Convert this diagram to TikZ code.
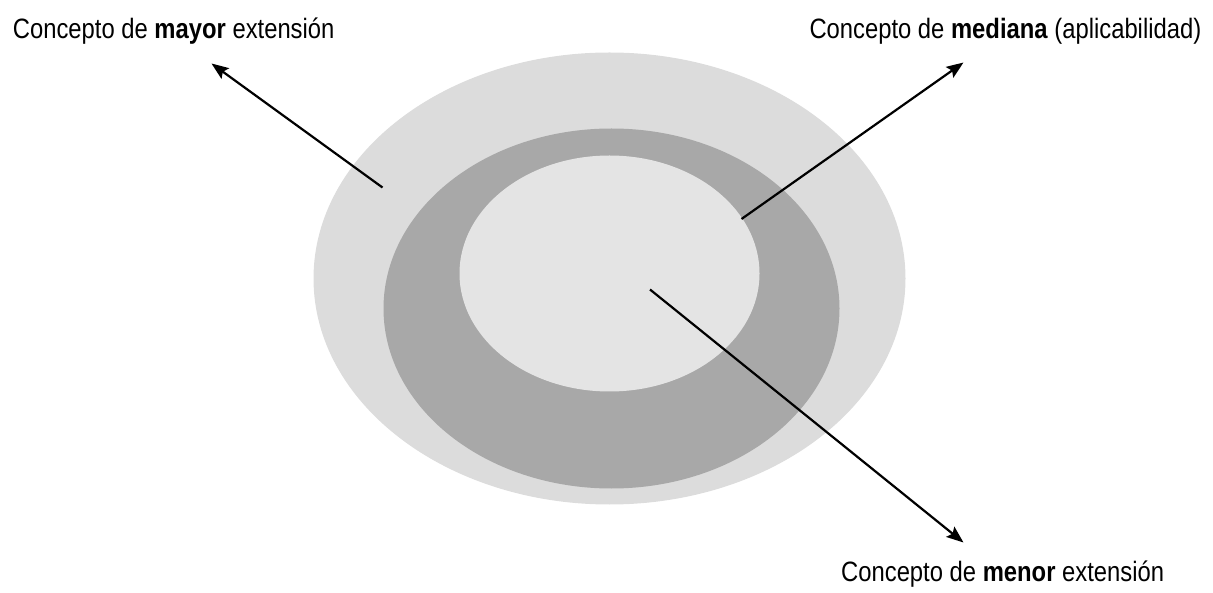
\documentclass[tikz,border=0pt]{standalone}
\usepackage{fontspec}
\setmainfont{Liberation Sans}[FakeStretch=0.85]
\usetikzlibrary{arrows.meta}
\definecolor{ringouter}{HTML}{DCDCDC}
\definecolor{ringmid}{HTML}{A8A8A8}
\definecolor{ringinner}{HTML}{E4E4E4}
\tikzset{
  label text/.style={anchor=base west, inner sep=0pt, font=\fontsize{28}{32}\selectfont},
  pointer/.style={line width=2.2pt, -{Stealth[length=17pt,width=13pt,inset=3pt]}}
}
\begin{document}
\begin{tikzpicture}[x=1pt,y=-1pt]
\useasboundingbox (0,0) rectangle (1213,593);
% concentric regions
\fill[ringouter] (609.5,278.5) ellipse [x radius=296pt, y radius=226pt];
\fill[ringmid] (611.5,308.5) ellipse [x radius=228pt, y radius=180pt];
\fill[ringinner] (609.5,273.5) ellipse [x radius=150pt, y radius=118pt];
% labels
\node[label text] (mayor) at (12.7,38.5) {Concepto de \textbf{mayor} extensión};
\node[label text] (mediana) at (809.3,38.5) {Concepto de \textbf{mediana} (aplicabilidad)};
\node[label text] (menor) at (841,581.5) {Concepto de \textbf{menor} extensión};
% pointer start and end points
\coordinate (sMayor) at (382.5,187.5);
\coordinate (tMayor) at (211.5,63.5);
\coordinate (sMediana) at (741.5,219);
\coordinate (tMediana) at (963.5,62.5);
\coordinate (sMenor) at (650,289.5);
\coordinate (tMenor) at (963.5,542.5);
\draw[pointer] (sMayor) -- (tMayor);
\draw[pointer] (sMediana) -- (tMediana);
\draw[pointer] (sMenor) -- (tMenor);
\end{tikzpicture}
\end{document}
